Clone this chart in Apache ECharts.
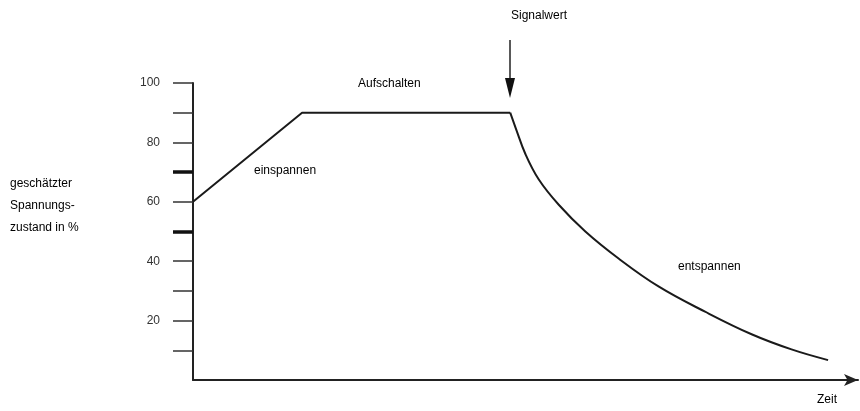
<!DOCTYPE html>
<html>
<head>
<meta charset="utf-8">
<script src="https://cdn.jsdelivr.net/npm/echarts@6/dist/echarts.min.js"></script>
<style>
  html, body { margin: 0; padding: 0; background: #fff; }
  #chart { width: 860px; height: 411px; }
</style>
</head>
<body>
<div id="chart"></div>
<script>
// Zeit (0..100) und geschätzter Spannungszustand in %
const zeit = [0, 16.4, 47.7, 48.5, 50, 52, 55, 59, 64, 70, 77, 84, 90, 95.5];
const spannung = [60, 90, 90, 85, 76, 67.5, 59, 50, 40.9, 31.5, 23, 15.4, 10.3, 6.7];
const tickWerte = [10, 20, 30, 40, 50, 60, 70, 80, 90, 100];
const labelWerte = [20, 40, 60, 80, 100];
const dickeTicks = [50, 70];
const yTitel = ['geschätzter', 'Spannungs-', 'zustand in %'];

const txt = { fontFamily: 'Liberation Sans, Arial, sans-serif', fontSize: 12, color: '#333' };
const punkte = zeit.map((x, i) => [x, spannung[i]]);
// ab Signalwert (Index 2) beginnt das Entspannen
const signalIdx = 2;

var myChart = echarts.init(document.getElementById('chart'));

let option = {
    animation: false,
    grid: { left: 193, right: 2, top: 83, bottom: 31 },
    xAxis: {
        type: 'value',
        min: 0,
        max: 100,
        axisLine: { show: true, symbol: ['none', 'arrow'], symbolSize: [9, 14], lineStyle: { color: '#222', width: 2 } },
        axisTick: { show: false },
        axisLabel: { show: false },
        splitLine: { show: false }
    },
    yAxis: [{
        type: 'value',
        min: 0,
        max: 100,
        interval: 10,
        axisLine: { show: true, lineStyle: { color: '#222', width: 2 } },
        axisTick: { show: true, inside: false, length: 20, customValues: tickWerte, lineStyle: { color: '#333', width: 1.5 } },
        axisLabel: { margin: 33, customValues: labelWerte, fontFamily: txt.fontFamily, fontSize: 12, color: '#333' },
        splitLine: { show: false }
    }, {
        type: 'value',
        min: 0,
        max: 100,
        position: 'left',
        axisLine: { show: false },
        axisTick: { show: true, length: 20, customValues: dickeTicks, lineStyle: { color: '#111', width: 3.5 } },
        axisLabel: { show: false },
        splitLine: { show: false }
    }],
    graphic: [
        { type: 'text', left: 10, top: 173, style: Object.assign({ text: yTitel.join('\n'), lineHeight: 22 }, txt) },
        { type: 'text', left: 358, top: 78, style: Object.assign({ text: 'Aufschalten' }, txt) },
        { type: 'text', left: 254, top: 165, style: Object.assign({ text: 'einspannen' }, txt) },
        { type: 'text', left: 678, top: 261, style: Object.assign({ text: 'entspannen' }, txt) },
        { type: 'text', left: 511, top: 10, style: Object.assign({ text: 'Signalwert' }, txt) },
        { type: 'text', left: 817, top: 394, style: Object.assign({ text: 'Zeit' }, txt) },
        { type: 'line', shape: { x1: 510, y1: 40, x2: 510, y2: 86 }, style: { stroke: '#222', lineWidth: 1.5 } },
        { type: 'polygon', shape: { points: [[505, 78], [515, 78], [510, 98]] }, style: { fill: '#111' } }
    ],
    series: [{
        type: 'line',
        data: punkte.slice(0, signalIdx + 1),
        showSymbol: false,
        smooth: false,
        lineStyle: { color: '#1a1a1a', width: 2, join: 'round' }
    }, {
        type: 'line',
        data: punkte.slice(signalIdx),
        showSymbol: false,
        smooth: 0.4,
        lineStyle: { color: '#1a1a1a', width: 2, join: 'round' }
    }]
};

myChart.setOption(option);
</script>
</body>
</html>
